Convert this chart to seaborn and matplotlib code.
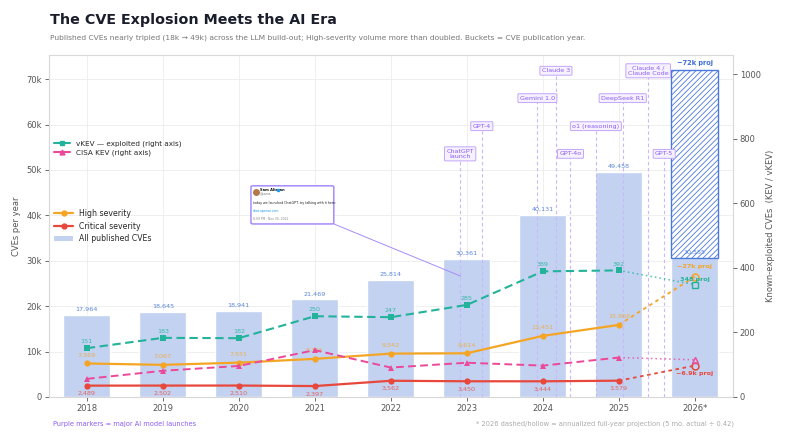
import numpy as np
import pandas as pd
import matplotlib
matplotlib.use("Agg")
import matplotlib.pyplot as plt
import seaborn as sns
from matplotlib.lines import Line2D
from matplotlib.patches import Patch, FancyBboxPatch
import datetime as dt

# ---------------- data ----------------
years = ["2018", "2019", "2020", "2021", "2022", "2023", "2024", "2025", "2026*"]
all_cves = [17964, 18645, 18941, 21469, 25814, 30361, 40131, 49458, 30555]
all_cves_proj = 72000
high_sev = [7369, 7067, 7551, 8385, 9542, 9614, 13451, 15868]
high_proj = 26500
critical = [2489, 2502, 2510, 2397, 3562, 3450, 3444, 3579]
critical_proj = 6900
vkev = [151, 183, 182, 250, 247, 285, 389, 392]
vkev_proj = 348
cisa_kev = [56, 81, 96, 145, 91, 106, 97, 122]
cisa_proj = 115

launch_names = ["ChatGPT\nlaunch", "GPT-4", "Gemini 1.0", "Claude 3", "GPT-4o",
                "o1 (reasoning)", "DeepSeek R1", "Claude 4 /\nClaude Code", "GPT-5"]
launch_dates = ["2022-11-30", "2023-03-14", "2023-12-06", "2024-03-04", "2024-05-13",
                "2024-09-12", "2025-01-20", "2025-05-22", "2025-08-07"]
launch_levels = [0.711, 0.792, 0.874, 0.954, 0.711, 0.792, 0.874, 0.954, 0.711]

# ---------------- style ----------------
sns.set_theme(style="whitegrid")
plt.rcParams["font.family"] = ["DejaVu Sans"]
plt.rcParams["hatch.linewidth"] = 0.6

C_BAR = "#c3d2f1"
C_BARTXT = "#5a86d9"
C_HIGH = "#f5a524"
C_CRIT = "#e8473c"
C_VKEV = "#22b39a"
C_CISA = "#ec4899"
C_PURP = "#8b5cf6"
C_LAUNCH = "#c9b6fb"

fig = plt.figure(figsize=(8, 4.44), dpi=100)
ax = fig.add_axes([0.061, 0.106, 0.855, 0.770])

df = pd.DataFrame({"year": years, "cves": all_cves})
sns.barplot(data=df, x="year", y="cves", order=years, color=C_BAR, width=0.62,
            saturation=1, ax=ax, zorder=2)
n = len(years)
xs = np.arange(len(high_sev))
xp = n - 1

# projection bar (hatched)
ax.bar(xp, all_cves_proj - all_cves[-1], bottom=all_cves[-1], width=0.62,
       color="white", edgecolor="#4a78dd", hatch="//////", linewidth=1.0, zorder=3)

for i, v in enumerate(all_cves):
    ax.text(i, v + 700, f"{v:,}", ha="center", va="bottom", fontsize=4.6,
            color=C_BARTXT, zorder=6)
ax.text(xp, all_cves_proj + 900, "~72k proj", ha="center", va="bottom", fontsize=4.8,
        color="#3f6fd6", fontweight="bold", zorder=6)

# severity lines (left axis)
sns.lineplot(x=xs, y=high_sev, ax=ax, color=C_HIGH, lw=1.6, marker="o", ms=4.5,
             markeredgewidth=0, zorder=5)
sns.lineplot(x=xs, y=critical, ax=ax, color=C_CRIT, lw=1.6, marker="o", ms=4.5,
             markeredgewidth=0, zorder=5)
ax.plot([xs[-1], xp], [high_sev[-1], high_proj], color=C_HIGH, lw=1.3, ls=(0, (2, 2)), zorder=5)
ax.plot([xs[-1], xp], [critical[-1], critical_proj], color=C_CRIT, lw=1.3, ls=(0, (2, 2)), zorder=5)
ax.plot([xp], [high_proj], marker="o", ms=5, mfc="none", mec=C_HIGH, mew=1.1, zorder=6)
ax.plot([xp], [critical_proj], marker="o", ms=5, mfc="none", mec=C_CRIT, mew=1.1, zorder=6)
for i, v in enumerate(high_sev):
    ax.text(i, v + 1300, f"{v:,}", ha="center", va="bottom", fontsize=4.6, color=C_HIGH,
            alpha=0.8, zorder=6)
for i, v in enumerate(critical):
    ax.text(i, v - 1200, f"{v:,}", ha="center", va="top", fontsize=4.6, color=C_CRIT,
            alpha=0.8, zorder=6)
ax.text(xp, high_proj + 1700, "~27k proj", ha="center", va="bottom", fontsize=4.6,
        color=C_HIGH, fontweight="bold", zorder=6)
ax.text(xp, critical_proj - 1100, "~6.9k proj", ha="center", va="top", fontsize=4.6,
        color=C_CRIT, fontweight="bold", zorder=6)

ax.set_ylim(0, 75300)
ax.set_xlim(-0.5, 8.5)
ax.set_yticks(np.arange(0, 70001, 10000))
ax.set_yticklabels(["0"] + [f"{k}k" for k in range(10, 71, 10)])
ax.set_xticks(range(n))
ax.set_xticklabels(years)
ax.set_xlabel("")
ax.set_ylabel("CVEs per year", fontsize=6, color="#555555")
ax.tick_params(axis="both", labelsize=6, colors="#555555", length=3, width=0.6, pad=2)
ax.tick_params(axis="both", which="both", bottom=True, left=True)
ax.grid(True, color="#ececec", lw=0.6)
ax.set_axisbelow(True)
for s in ax.spines.values():
    s.set_color("#d8d8d8")
    s.set_linewidth(0.8)

# launch markers
for name, d, lvl in zip(launch_names, launch_dates, launch_levels):
    t = dt.date.fromisoformat(d)
    pos = t.year + (t.timetuple().tm_yday - 1) / 365.0 - 2018
    ytop = lvl * 75300
    ax.plot([pos, pos], [0, ytop], color=C_LAUNCH, lw=0.8, ls=(0, (3, 2.5)), zorder=4)
    ax.text(pos, ytop, name, ha="center", va="center", fontsize=4.6, color=C_PURP,
            zorder=7, linespacing=1.05,
            bbox=dict(boxstyle="round,pad=0.3,rounding_size=0.15", fc="#f6f1ff",
                      ec="#c4a6fb", lw=0.7))

# right axis
ax2 = ax.twinx()
sns.lineplot(x=xs, y=vkev, ax=ax2, color=C_VKEV, lw=1.5, ls=(0, (4, 2.2)), marker="s",
             ms=4, markeredgewidth=0, zorder=5)
sns.lineplot(x=xs, y=cisa_kev, ax=ax2, color=C_CISA, lw=1.4, ls=(0, (4, 2.2)), marker="^",
             ms=4.2, markeredgewidth=0, zorder=5)
ax2.plot([xs[-1], xp], [vkev[-1], vkev_proj], color=C_VKEV, lw=1.1, ls=(0, (1, 2)), alpha=0.8)
ax2.plot([xs[-1], xp], [cisa_kev[-1], cisa_proj], color=C_CISA, lw=1.1, ls=(0, (1, 2)), alpha=0.8)
ax2.plot([xp], [vkev_proj], marker="s", ms=4.5, mfc="none", mec=C_VKEV, mew=1.0)
ax2.plot([xp], [cisa_proj], marker="^", ms=5, mfc="none", mec=C_CISA, mew=1.0)
for i, v in enumerate(vkev):
    ax2.text(i, v + 12, f"{v}", ha="center", va="bottom", fontsize=4.6, color=C_VKEV,
             alpha=0.85)
ax2.text(xp, vkev_proj + 9, "348 proj", ha="center", va="bottom", fontsize=4.6,
         color=C_VKEV, fontweight="bold")
ax2.set_ylim(0, 1059)
ax2.set_yticks(range(0, 1001, 200))
ax2.grid(False)
ax2.set_ylabel("Known-exploited CVEs  (KEV / vKEV)", fontsize=6, color="#555555")
ax2.tick_params(axis="y", labelsize=6, colors="#555555", length=3, width=0.6, pad=2, right=True)
for s in ax2.spines.values():
    s.set_visible(False)

# tweet card
bx0, bx1, by0, by1 = 2.16, 3.25, 38100, 46500
card = FancyBboxPatch((bx0, by0), bx1 - bx0, by1 - by0,
                      boxstyle="round,pad=0,rounding_size=0.03", fc="white",
                      ec="#a78bfa", lw=1.1, zorder=8, mutation_aspect=8000)
ax.add_patch(card)
ax.plot([bx1, 4.92], [by0, 26600], color="#a78bfa", lw=0.7, zorder=7)
ax.plot([bx0 + 0.06], [by1 - 1400], marker="o", ms=4, color="#b07a4a", zorder=9)
ax.text(bx0 + 0.12, by1 - 1000, "Sam Altman", fontsize=2.6, fontweight="bold",
        color="#111111", va="center", zorder=9)
ax.plot([bx0 + 0.35], [by1 - 1000], marker="o", ms=1.6, color="#1d9bf0", zorder=9)
ax.text(bx0 + 0.12, by1 - 1900, "@sama", fontsize=2.2, color="#777777", va="center", zorder=9)
ax.text(bx0 + 0.03, by1 - 3700, "today we launched ChatGPT. try talking with it here:",
        fontsize=2.3, color="#222222", va="center", zorder=9)
ax.text(bx0 + 0.03, by1 - 5600, "chat.openai.com", fontsize=2.3, color="#1d9bf0",
        va="center", zorder=9)
ax.text(bx0 + 0.03, by1 - 7200, "8:09 PM \u00b7 Nov 30, 2022", fontsize=2.2,
        color="#888888", va="center", zorder=9)

# legends
h_top = [Line2D([], [], color=C_VKEV, lw=1.5, marker="s", ms=3.5),
         Line2D([], [], color=C_CISA, lw=1.5, marker="^", ms=3.5)]
leg1 = ax2.legend(h_top, ["vKEV \u2014 exploited (right axis)", "CISA KEV (right axis)"],
                  loc="upper left", bbox_to_anchor=(0.0, 0.765), frameon=False,
                  fontsize=5.2, handlelength=2.2, labelspacing=0.35, borderaxespad=0.3)
h_bot = [Line2D([], [], color=C_HIGH, lw=1.6, marker="o", ms=3.5),
         Line2D([], [], color=C_CRIT, lw=1.6, marker="o", ms=3.5),
         Patch(fc=C_BAR, ec="none")]
leg2 = ax2.legend(h_bot, ["High severity", "Critical severity", "All published CVEs"],
                  loc="upper left", bbox_to_anchor=(0.0, 0.565), frameon=False,
                  fontsize=5.6, handlelength=2.4, labelspacing=0.45, borderaxespad=0.3)
ax2.add_artist(leg1)

# titles and notes
fig.text(0.0625, 0.955, "The CVE Explosion Meets the AI Era", fontsize=10.3,
         fontweight="bold", color="#1a1d2b", va="center")
fig.text(0.0625, 0.915,
         "Published CVEs nearly tripled (18k \u2192 49k) across the LLM build-out; "
         "High-severity volume more than doubled. Buckets = CVE publication year.",
         fontsize=5.4, color="#777777", va="center")
fig.text(0.066, 0.045, "Purple markers = major AI model launches", fontsize=4.8,
         color=C_PURP, va="center")
fig.text(0.917, 0.045,
         "* 2026 dashed/hollow = annualized full-year projection (5 mo. actual \u00f7 0.42)",
         fontsize=4.8, color="#aaaaaa", va="center", ha="right")

fig.savefig("out.png", dpi=100, facecolor="white")
